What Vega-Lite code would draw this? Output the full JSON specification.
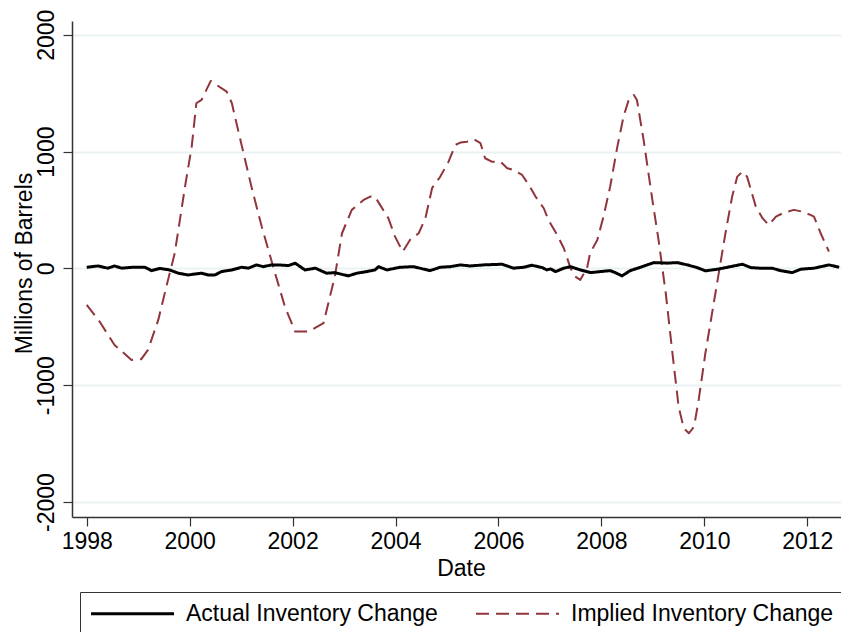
{
  "$schema": "https://vega.github.io/schema/vega-lite/v6.json",
  "width": 769,
  "height": 496,
  "autosize": {"type": "none"},
  "padding": {"left": 72, "top": 21, "right": 0, "bottom": 115},
  "background": "white",
  "config": {
    "view": {"stroke": null},
    "font": "Liberation Sans",
    "axis": {"labelFont": "Liberation Sans", "titleFont": "Liberation Sans", "labelFontSize": 23, "titleFontSize": 23, "labelColor": "black", "titleColor": "black", "titleFontWeight": "normal", "domainColor": "#333333", "domainWidth": 1.5, "tickColor": "#333333", "tickWidth": 1.2, "tickSize": 9, "gridColor": "#eaf2f3", "gridWidth": 2}
  },
  "data": {"values": [
    {"t": 1998.00, "v": -312, "s": "Implied Inventory Change"},
    {"t": 1998.25, "v": -455, "s": "Implied Inventory Change"},
    {"t": 1998.54, "v": -655, "s": "Implied Inventory Change"},
    {"t": 1998.87, "v": -783, "s": "Implied Inventory Change"},
    {"t": 1999.06, "v": -777, "s": "Implied Inventory Change"},
    {"t": 1999.19, "v": -698, "s": "Implied Inventory Change"},
    {"t": 1999.39, "v": -441, "s": "Implied Inventory Change"},
    {"t": 1999.58, "v": -98, "s": "Implied Inventory Change"},
    {"t": 1999.71, "v": 130, "s": "Implied Inventory Change"},
    {"t": 1999.91, "v": 700, "s": "Implied Inventory Change"},
    {"t": 2000.04, "v": 1043, "s": "Implied Inventory Change"},
    {"t": 2000.13, "v": 1414, "s": "Implied Inventory Change"},
    {"t": 2000.23, "v": 1442, "s": "Implied Inventory Change"},
    {"t": 2000.41, "v": 1605, "s": "Implied Inventory Change"},
    {"t": 2000.52, "v": 1571, "s": "Implied Inventory Change"},
    {"t": 2000.72, "v": 1513, "s": "Implied Inventory Change"},
    {"t": 2000.82, "v": 1414, "s": "Implied Inventory Change"},
    {"t": 2000.94, "v": 1186, "s": "Implied Inventory Change"},
    {"t": 2001.20, "v": 700, "s": "Implied Inventory Change"},
    {"t": 2001.40, "v": 358, "s": "Implied Inventory Change"},
    {"t": 2001.66, "v": -41, "s": "Implied Inventory Change"},
    {"t": 2001.85, "v": -327, "s": "Implied Inventory Change"},
    {"t": 2002.05, "v": -541, "s": "Implied Inventory Change"},
    {"t": 2002.31, "v": -541, "s": "Implied Inventory Change"},
    {"t": 2002.60, "v": -469, "s": "Implied Inventory Change"},
    {"t": 2002.82, "v": -70, "s": "Implied Inventory Change"},
    {"t": 2002.96, "v": 301, "s": "Implied Inventory Change"},
    {"t": 2003.15, "v": 501, "s": "Implied Inventory Change"},
    {"t": 2003.38, "v": 586, "s": "Implied Inventory Change"},
    {"t": 2003.51, "v": 615, "s": "Implied Inventory Change"},
    {"t": 2003.60, "v": 615, "s": "Implied Inventory Change"},
    {"t": 2003.70, "v": 544, "s": "Implied Inventory Change"},
    {"t": 2003.86, "v": 430, "s": "Implied Inventory Change"},
    {"t": 2003.99, "v": 272, "s": "Implied Inventory Change"},
    {"t": 2004.14, "v": 144, "s": "Implied Inventory Change"},
    {"t": 2004.28, "v": 244, "s": "Implied Inventory Change"},
    {"t": 2004.45, "v": 301, "s": "Implied Inventory Change"},
    {"t": 2004.58, "v": 430, "s": "Implied Inventory Change"},
    {"t": 2004.71, "v": 687, "s": "Implied Inventory Change"},
    {"t": 2004.87, "v": 786, "s": "Implied Inventory Change"},
    {"t": 2005.03, "v": 914, "s": "Implied Inventory Change"},
    {"t": 2005.16, "v": 1057, "s": "Implied Inventory Change"},
    {"t": 2005.26, "v": 1077, "s": "Implied Inventory Change"},
    {"t": 2005.39, "v": 1085, "s": "Implied Inventory Change"},
    {"t": 2005.52, "v": 1106, "s": "Implied Inventory Change"},
    {"t": 2005.65, "v": 1072, "s": "Implied Inventory Change"},
    {"t": 2005.74, "v": 943, "s": "Implied Inventory Change"},
    {"t": 2005.87, "v": 914, "s": "Implied Inventory Change"},
    {"t": 2006.04, "v": 914, "s": "Implied Inventory Change"},
    {"t": 2006.17, "v": 858, "s": "Implied Inventory Change"},
    {"t": 2006.29, "v": 843, "s": "Implied Inventory Change"},
    {"t": 2006.46, "v": 800, "s": "Implied Inventory Change"},
    {"t": 2006.59, "v": 715, "s": "Implied Inventory Change"},
    {"t": 2006.72, "v": 615, "s": "Implied Inventory Change"},
    {"t": 2006.88, "v": 515, "s": "Implied Inventory Change"},
    {"t": 2006.97, "v": 415, "s": "Implied Inventory Change"},
    {"t": 2007.14, "v": 287, "s": "Implied Inventory Change"},
    {"t": 2007.27, "v": 173, "s": "Implied Inventory Change"},
    {"t": 2007.40, "v": 2, "s": "Implied Inventory Change"},
    {"t": 2007.49, "v": -70, "s": "Implied Inventory Change"},
    {"t": 2007.59, "v": -98, "s": "Implied Inventory Change"},
    {"t": 2007.72, "v": 2, "s": "Implied Inventory Change"},
    {"t": 2007.78, "v": 130, "s": "Implied Inventory Change"},
    {"t": 2007.92, "v": 244, "s": "Implied Inventory Change"},
    {"t": 2008.04, "v": 443, "s": "Implied Inventory Change"},
    {"t": 2008.17, "v": 700, "s": "Implied Inventory Change"},
    {"t": 2008.31, "v": 1043, "s": "Implied Inventory Change"},
    {"t": 2008.43, "v": 1300, "s": "Implied Inventory Change"},
    {"t": 2008.53, "v": 1442, "s": "Implied Inventory Change"},
    {"t": 2008.63, "v": 1485, "s": "Implied Inventory Change"},
    {"t": 2008.69, "v": 1442, "s": "Implied Inventory Change"},
    {"t": 2008.82, "v": 1100, "s": "Implied Inventory Change"},
    {"t": 2008.99, "v": 586, "s": "Implied Inventory Change"},
    {"t": 2009.11, "v": 244, "s": "Implied Inventory Change"},
    {"t": 2009.25, "v": -212, "s": "Implied Inventory Change"},
    {"t": 2009.38, "v": -726, "s": "Implied Inventory Change"},
    {"t": 2009.50, "v": -1183, "s": "Implied Inventory Change"},
    {"t": 2009.60, "v": -1368, "s": "Implied Inventory Change"},
    {"t": 2009.70, "v": -1411, "s": "Implied Inventory Change"},
    {"t": 2009.80, "v": -1354, "s": "Implied Inventory Change"},
    {"t": 2009.89, "v": -1126, "s": "Implied Inventory Change"},
    {"t": 2010.02, "v": -726, "s": "Implied Inventory Change"},
    {"t": 2010.15, "v": -383, "s": "Implied Inventory Change"},
    {"t": 2010.28, "v": -41, "s": "Implied Inventory Change"},
    {"t": 2010.41, "v": 301, "s": "Implied Inventory Change"},
    {"t": 2010.54, "v": 615, "s": "Implied Inventory Change"},
    {"t": 2010.64, "v": 786, "s": "Implied Inventory Change"},
    {"t": 2010.74, "v": 829, "s": "Implied Inventory Change"},
    {"t": 2010.83, "v": 786, "s": "Implied Inventory Change"},
    {"t": 2011.00, "v": 529, "s": "Implied Inventory Change"},
    {"t": 2011.13, "v": 430, "s": "Implied Inventory Change"},
    {"t": 2011.25, "v": 372, "s": "Implied Inventory Change"},
    {"t": 2011.39, "v": 443, "s": "Implied Inventory Change"},
    {"t": 2011.55, "v": 478, "s": "Implied Inventory Change"},
    {"t": 2011.74, "v": 501, "s": "Implied Inventory Change"},
    {"t": 2011.90, "v": 486, "s": "Implied Inventory Change"},
    {"t": 2012.06, "v": 458, "s": "Implied Inventory Change"},
    {"t": 2012.13, "v": 443, "s": "Implied Inventory Change"},
    {"t": 2012.26, "v": 301, "s": "Implied Inventory Change"},
    {"t": 2012.42, "v": 144, "s": "Implied Inventory Change"},
    {"t": 1998.00, "v": 10, "s": "Actual Inventory Change"},
    {"t": 1998.22, "v": 21, "s": "Actual Inventory Change"},
    {"t": 1998.41, "v": 2, "s": "Actual Inventory Change"},
    {"t": 1998.54, "v": 21, "s": "Actual Inventory Change"},
    {"t": 1998.68, "v": 2, "s": "Actual Inventory Change"},
    {"t": 1998.90, "v": 10, "s": "Actual Inventory Change"},
    {"t": 1999.13, "v": 10, "s": "Actual Inventory Change"},
    {"t": 1999.26, "v": -19, "s": "Actual Inventory Change"},
    {"t": 1999.42, "v": 0, "s": "Actual Inventory Change"},
    {"t": 1999.61, "v": -13, "s": "Actual Inventory Change"},
    {"t": 1999.78, "v": -41, "s": "Actual Inventory Change"},
    {"t": 1999.97, "v": -56, "s": "Actual Inventory Change"},
    {"t": 2000.23, "v": -41, "s": "Actual Inventory Change"},
    {"t": 2000.36, "v": -56, "s": "Actual Inventory Change"},
    {"t": 2000.49, "v": -56, "s": "Actual Inventory Change"},
    {"t": 2000.62, "v": -27, "s": "Actual Inventory Change"},
    {"t": 2000.82, "v": -13, "s": "Actual Inventory Change"},
    {"t": 2001.01, "v": 10, "s": "Actual Inventory Change"},
    {"t": 2001.14, "v": 2, "s": "Actual Inventory Change"},
    {"t": 2001.30, "v": 30, "s": "Actual Inventory Change"},
    {"t": 2001.43, "v": 15, "s": "Actual Inventory Change"},
    {"t": 2001.59, "v": 30, "s": "Actual Inventory Change"},
    {"t": 2001.72, "v": 30, "s": "Actual Inventory Change"},
    {"t": 2001.92, "v": 24, "s": "Actual Inventory Change"},
    {"t": 2002.05, "v": 45, "s": "Actual Inventory Change"},
    {"t": 2002.24, "v": -13, "s": "Actual Inventory Change"},
    {"t": 2002.44, "v": 2, "s": "Actual Inventory Change"},
    {"t": 2002.66, "v": -41, "s": "Actual Inventory Change"},
    {"t": 2002.82, "v": -36, "s": "Actual Inventory Change"},
    {"t": 2003.08, "v": -64, "s": "Actual Inventory Change"},
    {"t": 2003.25, "v": -41, "s": "Actual Inventory Change"},
    {"t": 2003.44, "v": -27, "s": "Actual Inventory Change"},
    {"t": 2003.60, "v": -13, "s": "Actual Inventory Change"},
    {"t": 2003.67, "v": 15, "s": "Actual Inventory Change"},
    {"t": 2003.83, "v": -13, "s": "Actual Inventory Change"},
    {"t": 2004.09, "v": 10, "s": "Actual Inventory Change"},
    {"t": 2004.35, "v": 15, "s": "Actual Inventory Change"},
    {"t": 2004.67, "v": -19, "s": "Actual Inventory Change"},
    {"t": 2004.87, "v": 10, "s": "Actual Inventory Change"},
    {"t": 2005.06, "v": 15, "s": "Actual Inventory Change"},
    {"t": 2005.26, "v": 30, "s": "Actual Inventory Change"},
    {"t": 2005.45, "v": 21, "s": "Actual Inventory Change"},
    {"t": 2005.71, "v": 30, "s": "Actual Inventory Change"},
    {"t": 2006.07, "v": 36, "s": "Actual Inventory Change"},
    {"t": 2006.29, "v": 2, "s": "Actual Inventory Change"},
    {"t": 2006.49, "v": 10, "s": "Actual Inventory Change"},
    {"t": 2006.65, "v": 27, "s": "Actual Inventory Change"},
    {"t": 2006.85, "v": 7, "s": "Actual Inventory Change"},
    {"t": 2006.94, "v": -13, "s": "Actual Inventory Change"},
    {"t": 2007.01, "v": -4, "s": "Actual Inventory Change"},
    {"t": 2007.11, "v": -27, "s": "Actual Inventory Change"},
    {"t": 2007.27, "v": 2, "s": "Actual Inventory Change"},
    {"t": 2007.40, "v": 15, "s": "Actual Inventory Change"},
    {"t": 2007.59, "v": -13, "s": "Actual Inventory Change"},
    {"t": 2007.79, "v": -36, "s": "Actual Inventory Change"},
    {"t": 2007.98, "v": -27, "s": "Actual Inventory Change"},
    {"t": 2008.17, "v": -19, "s": "Actual Inventory Change"},
    {"t": 2008.27, "v": -36, "s": "Actual Inventory Change"},
    {"t": 2008.40, "v": -64, "s": "Actual Inventory Change"},
    {"t": 2008.56, "v": -19, "s": "Actual Inventory Change"},
    {"t": 2008.76, "v": 10, "s": "Actual Inventory Change"},
    {"t": 2009.02, "v": 50, "s": "Actual Inventory Change"},
    {"t": 2009.28, "v": 45, "s": "Actual Inventory Change"},
    {"t": 2009.47, "v": 50, "s": "Actual Inventory Change"},
    {"t": 2009.67, "v": 30, "s": "Actual Inventory Change"},
    {"t": 2009.86, "v": 7, "s": "Actual Inventory Change"},
    {"t": 2010.02, "v": -21, "s": "Actual Inventory Change"},
    {"t": 2010.25, "v": -7, "s": "Actual Inventory Change"},
    {"t": 2010.45, "v": 10, "s": "Actual Inventory Change"},
    {"t": 2010.74, "v": 36, "s": "Actual Inventory Change"},
    {"t": 2010.90, "v": 7, "s": "Actual Inventory Change"},
    {"t": 2011.09, "v": 2, "s": "Actual Inventory Change"},
    {"t": 2011.32, "v": 2, "s": "Actual Inventory Change"},
    {"t": 2011.48, "v": -19, "s": "Actual Inventory Change"},
    {"t": 2011.71, "v": -36, "s": "Actual Inventory Change"},
    {"t": 2011.87, "v": -7, "s": "Actual Inventory Change"},
    {"t": 2012.13, "v": 2, "s": "Actual Inventory Change"},
    {"t": 2012.42, "v": 30, "s": "Actual Inventory Change"},
    {"t": 2012.62, "v": 10, "s": "Actual Inventory Change"}
  ]},
  "mark": {"type": "line", "strokeJoin": "round", "clip": true},
  "encoding": {
    "x": {"field": "t", "type": "quantitative", "title": "Date",
      "scale": {"domain": [1997.714, 2012.655], "nice": false, "zero": false},
      "axis": {"values": [1998, 2000, 2002, 2004, 2006, 2008, 2010, 2012], "format": "d", "grid": false, "labelPadding": 4, "labelFlush": false, "titleBaseline": "alphabetic", "titleY": 58, "titleX": 389}},
    "y": {"field": "v", "type": "quantitative", "title": "Millions of Barrels",
      "scale": {"domain": [-2128, 2118], "nice": false, "zero": false},
      "axis": {"values": [-2000, -1000, 0, 1000, 2000], "labelExpr": "'' + datum.value", "grid": true, "labelAngle": -90, "labelAlign": "center", "labelBaseline": "alphabetic", "labelPadding": 10, "titleAngle": -90, "titleAlign": "center", "titleBaseline": "alphabetic", "titleX": -41, "titleY": 242}},
    "color": {"field": "s", "type": "nominal",
      "scale": {"domain": ["Actual Inventory Change", "Implied Inventory Change"], "range": ["#000000", "#90353b"]},
      "legend": {"title": null, "orient": "none", "legendX": 8, "legendY": 571, "direction": "horizontal", "columns": 2, "strokeColor": "#333333", "padding": 10, "symbolType": "M-4.15,0H4.15", "symbolSize": 400, "symbolOffset": 31, "labelFont": "Liberation Sans", "labelFontSize": 23, "labelColor": "black", "labelOffset": 42, "columnPadding": 34, "labelLimit": 400}},
    "strokeDash": {"field": "s", "type": "nominal",
      "scale": {"domain": ["Actual Inventory Change", "Implied Inventory Change"], "range": [[1, 0], [13, 7]]},
      "legend": null},
    "strokeWidth": {"field": "s", "type": "nominal",
      "scale": {"domain": ["Actual Inventory Change", "Implied Inventory Change"], "range": [3, 2]},
      "legend": null}
  }
}
